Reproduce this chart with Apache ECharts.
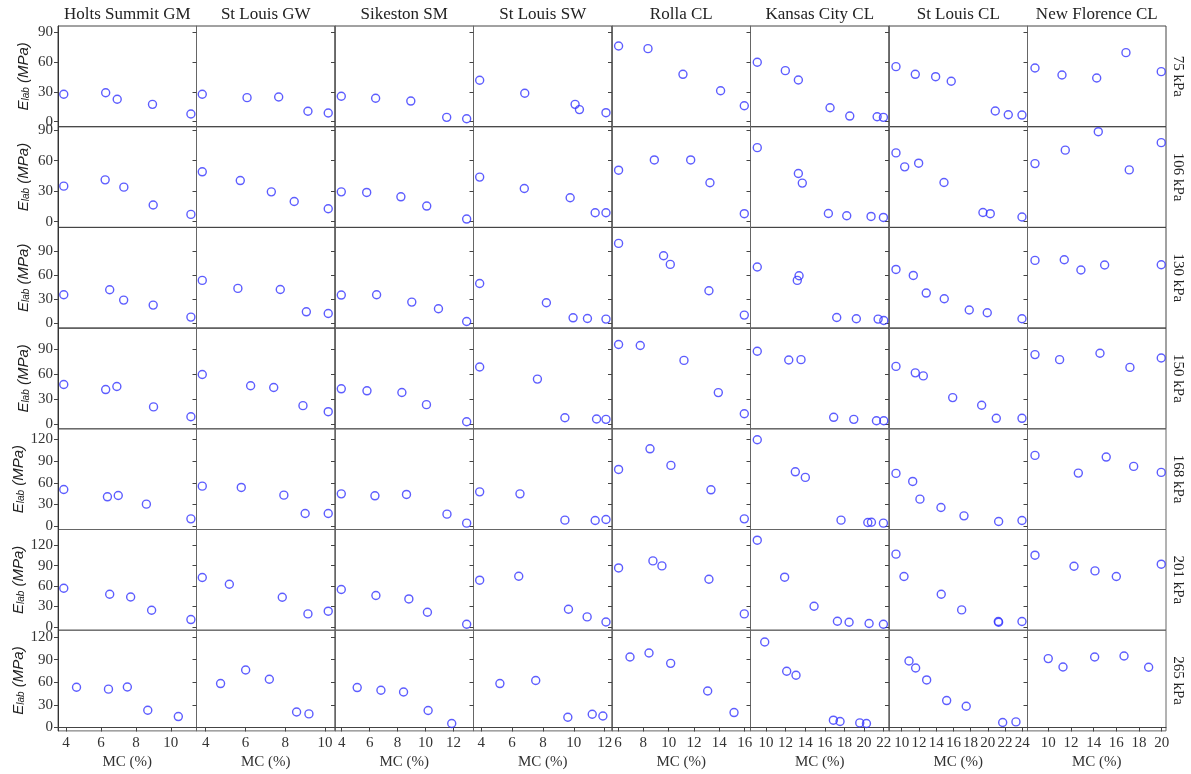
<!DOCTYPE html>
<html><head><meta charset="utf-8">
<script src="https://cdn.jsdelivr.net/npm/echarts@6/dist/echarts.min.js"></script>
<style>html,body{margin:0;padding:0;background:#fff}#c{width:1191px;height:774px}</style>
</head><body><div id="c"></div>
<script>
// ---------- DATA ----------
const sites = ['Holts Summit GM','St Louis GW','Sikeston SM','St Louis SW','Rolla CL','Kansas City CL','St Louis CL','New Florence CL'];
const pressures = ['75 kPa','106 kPa','130 kPa','150 kPa','168 kPa','201 kPa','265 kPa'];

const xTicks = [[4,6,8,10],[4,6,8,10],[4,6,8,10,12],[4,6,8,10,12],[6,8,10,12,14,16],[10,12,14,16,18,20,22],[10,12,14,16,18,20,22,24],[10,12,14,16,18,20]];
const yTicks = [[0,30,60,90],[0,30,60,90],[0,30,60,90],[0,30,60,90],[0,30,60,90,120],[0,30,60,90,120],[0,30,60,90,120]];
const xRanges = [[3.54,11.47],[3.54,10.5],[3.52,13.44],[3.5,12.47],[5.53,16.46],[8.42,22.54],[8.53,24.6],[8.17,20.38]];
const yRanges = [[-5,96.3],[-5.6,93.5],[-5.75,120],[-5.3,114.8],[-4.6,134.7],[-4.8,143],[-4.5,128.9]];

const holtsMC = [[3.87,6.27,6.93,8.95,11.15],[3.87,6.24,7.31,8.99,11.15],[3.87,6.5,7.3,8.99,11.15],[3.87,6.27,6.91,9.01,11.15],[3.87,6.37,6.99,8.6,11.15],[3.87,6.5,7.7,8.9,11.15],[4.6,6.43,7.51,8.68,10.43]];
const holtsE  = [[27.6,29.2,22.6,17.5,7.8],[35,41.2,34,16.4,7.2],[35.9,42.1,29.2,23,8],[47.5,41.5,45.1,20.8,9.1],[50.8,40.6,42.5,30.5,10.1],[56.8,48,44,24.5,10.8],[53.3,50.8,53.7,22.9,14.5]];

const stlGwMC = [[3.83,6.08,7.67,9.14,10.16],[3.83,5.74,7.3,8.45,10.16],[3.83,5.62,7.75,9.06,10.16],[3.83,6.26,7.42,8.89,10.16],[3.83,5.79,7.93,9.0,10.16],[3.83,5.19,7.85,9.14,10.16],[4.75,6.01,7.2,8.57,9.19]];
const stlGwE  = [[27.6,24.2,24.9,10.5,8.8],[49.1,40.5,29.4,19.9,12.8],[53.8,43.8,42.5,14.6,12.5],[59.5,46,44,22.3,15.1],[55.4,53.6,42.9,17.6,17.6],[72.5,62.7,43.6,19.1,23.1],[58.2,76.2,63.9,20.6,18]];

const sikMC = [[3.97,6.43,8.95,11.52,12.95],[3.97,5.79,8.24,10.09,12.95],[3.97,6.5,9.02,10.93,12.95],[3.97,5.81,8.31,10.07,12.95],[3.97,6.38,8.64,11.54,12.95],[3.97,6.45,8.81,10.14,12.95],[5.11,6.81,8.43,10.19,11.88]];
const sikE  = [[25.6,23.6,20.8,4.4,3.0],[29.4,28.8,24.5,15.4,2.6],[35.5,35.9,26.7,18.4,2.5],[42.4,40,38,23.5,3.1],[44.7,42,43.9,16.6,4.2],[54.9,46.1,41.1,21.6,4.0],[52.9,49.3,47.1,22.5,5.3]];

const stlSwMC = [[3.9,6.82,10.08,10.36,12.08],[3.9,6.79,9.76,11.38,12.08],[3.9,8.22,9.95,10.88,12.08],[3.9,7.64,9.42,11.47,12.08],[3.9,6.51,9.42,11.38,12.08],[3.9,6.43,9.65,10.86,12.08],[5.21,7.53,9.61,11.19,11.88]];
const stlSwE  = [[41.7,28.6,17.5,12.2,9.1],[43.9,32.7,23.6,8.8,8.8],[50,25.9,7.1,6.3,5.5],[68.4,54,7.9,6.4,6.0],[47.5,44.7,8.3,7.9,9.3],[68.6,74.4,26,14.7,7.3],[58.2,62.2,13.6,17.6,15.3]];

const rollaMC = [[6.05,8.37,11.13,14.1,15.97],[6.05,8.87,11.74,13.26,15.97],[6.05,9.6,10.13,13.18,15.97],[6.05,7.76,11.21,13.92,15.97],[6.05,8.53,10.18,13.34,15.97],[6.05,8.76,9.47,13.18,15.97],[6.95,8.45,10.16,13.08,15.16]];
const rollaE  = [[76.2,73.5,47.7,31.2,16.1],[50.7,60.8,60.8,38.3,7.9],[100,84.6,73.8,40.9,10.5],[95.2,94,76.3,37.9,12.7],[78.5,107,84.1,50.3,10.1],[86.6,96.9,89.6,70,19.1],[93.4,98.7,85,48.4,19.8]];

const kcMC = [[9.11,11.97,13.3,16.53,18.54,21.33,21.97],[9.11,13.3,13.7,16.36,18.23,20.71,21.97],[9.11,13.19,13.37,17.21,19.21,21.43,22.01],[9.11,12.32,13.57,16.9,18.95,21.26,22.01],[9.11,12.99,14.01,17.65,20.38,20.75,21.97],[9.11,11.9,14.9,17.28,18.47,20.51,21.97],[9.87,12.11,13.06,16.87,17.55,19.56,20.24]];
const kcE  = [[59.8,51.4,42,14.1,5.7,5.0,4.4],[72.9,47.4,38,8.1,5.9,5.2,4.2],[70.5,53.8,59.6,7.5,5.9,5.5,3.8],[87.2,76.8,77.2,8.4,6.0,4.3,4.3],[119.5,75.2,67.5,8.3,5.1,5.5,4.2],[127.3,73,30.4,8.4,6.9,5.0,4.0],[113.2,74.5,69.2,9.7,7.9,6.1,5.3]];

const stlClMC = [[9.34,11.58,13.94,15.75,20.86,22.37,23.96],[9.34,10.35,11.97,14.91,19.43,20.28,23.96],[9.34,11.35,12.85,14.94,17.84,19.93,23.96],[9.34,11.58,12.51,15.92,19.28,20.98,23.96],[9.34,11.28,12.12,14.56,17.23,21.25,23.96],[9.34,10.27,14.59,16.96,21.21,21.25,23.96],[10.85,11.62,12.9,15.22,17.49,21.72,23.26]];
const stlClE  = [[55.4,47.7,45.3,40.7,10.8,7.0,6.7],[67.7,54,57.6,38.6,9.1,7.9,4.6],[67.5,60,38,30.9,16.8,13.4,5.9],[69.1,61.4,57.8,31.9,22.8,7.2,7.2],[73,61.9,37.4,25.9,14.3,6.5,7.9],[106.8,74,48,25,7.9,6.9,7.9],[88.1,78.8,63,35.7,28.2,6.6,7.4]];

const nfMC = [[8.83,11.21,14.27,16.85,19.96],[8.83,11.5,14.41,17.14,19.96],[8.83,11.41,12.88,14.97,19.96],[8.83,11.0,14.56,17.2,19.96],[8.83,12.65,15.11,17.53,19.96],[8.83,12.27,14.12,16.0,19.96],[10,11.3,14.09,16.68,18.85]];
const nfE  = [[54.1,47,44,69.5,50.4],[57.2,70.4,88.6,51,77.8],[78.8,79.6,66.8,73,73.4],[83.2,77.2,84.8,67.9,79.2],[97.9,73.4,95.6,82.7,74.4],[105.3,89.1,82.2,74,92.1],[91.3,80.2,93.4,94.7,79.8]];

const siteMC = [holtsMC, stlGwMC, sikMC, stlSwMC, rollaMC, kcMC, stlClMC, nfMC];
const siteE  = [holtsE, stlGwE, sikE, stlSwE, rollaE, kcE, stlClE, nfE];

// ---------- LAYOUT ----------
const L0 = 58, T0 = 26, CW = 138.5, RH = 100.7;
const NR = pressures.length, NC = sites.length;
const serif = '"Liberation Serif", "DejaVu Serif", serif';
const sans = '"Liberation Sans", Arial, sans-serif';

const grids = [], xAxes = [], yAxes = [], series = [], graphics = [];
for (let r = 0; r < NR; r++) {
  for (let c = 0; c < NC; c++) {
    const idx = grids.length;
    const bottom = r === NR - 1;
    grids.push({left: L0 + c * CW, top: T0 + r * RH, width: CW, height: RH,
      show: true, borderColor: r < 4 ? '#444' : '#666', borderWidth: 1, backgroundColor: 'transparent'});
    xAxes.push({type: 'value', gridIndex: idx, min: xRanges[c][0], max: xRanges[c][1],
      name: bottom ? 'MC (%)' : '', nameLocation: 'middle', nameGap: 24,
      nameTextStyle: {fontFamily: serif, fontSize: 15, color: '#333'},
      axisLine: {show: bottom, lineStyle: {color: '#444', width: 1}},
      axisTick: {show: bottom, length: 4, customValues: xTicks[c], lineStyle: {color: '#444'}},
      axisLabel: {show: bottom, customValues: xTicks[c], fontFamily: serif, fontSize: 15, color: '#333', margin: 5},
      splitLine: {show: false}});
    yAxes.push({type: 'value', gridIndex: idx, min: yRanges[r][0], max: yRanges[r][1],
      name: c === 0 ? '{e|E}{s|lab}{n| (MPa)}' : '', nameLocation: 'middle', nameGap: 27, nameRotate: 90,
      nameTextStyle: {color: '#222', rich: {
        e: {fontFamily: sans, fontStyle: 'italic', fontSize: 15, color: '#222', verticalAlign: 'bottom', lineHeight: 18},
        s: {fontFamily: sans, fontStyle: 'italic', fontSize: 10, color: '#222', verticalAlign: 'bottom', lineHeight: 13},
        n: {fontFamily: sans, fontStyle: 'italic', fontSize: 15, color: '#222', verticalAlign: 'bottom', lineHeight: 18}}},
      axisLine: {show: true, lineStyle: {color: c === 0 ? '#333' : '#666', width: 1}},
      axisTick: {show: true, length: 4, customValues: yTicks[r], lineStyle: {color: '#444'}},
      axisLabel: {show: c === 0, customValues: yTicks[r], fontFamily: serif, fontSize: 15, color: '#333', margin: 5},
      splitLine: {show: false}});
    const mc = siteMC[c][r], ev = siteE[c][r];
    series.push({type: 'scatter', xAxisIndex: idx, yAxisIndex: idx,
      data: mc.map((m, i) => [m, ev[i]]),
      symbol: 'circle', symbolSize: 8, silent: true,
      itemStyle: {color: 'rgba(0,0,0,0)', borderColor: '#3535ff', borderWidth: 1.4}});
  }
}
for (let c = 0; c < NC; c++) {
  graphics.push({type: 'text', x: L0 + (c + 0.5) * CW, y: 15,
    style: {text: sites[c], font: '17px ' + serif, fill: '#222', align: 'center', verticalAlign: 'middle'}});
}
for (let r = 0; r < NR; r++) {
  graphics.push({type: 'text', x: L0 + NC * CW + 12, y: T0 + (r + 0.5) * RH, rotation: -Math.PI / 2,
    style: {text: pressures[r], font: '15px ' + serif, fill: '#222', align: 'center', verticalAlign: 'middle'}});
}

const chart = echarts.init(document.getElementById('c'), null, {renderer: 'canvas'});
chart.setOption({animation: false, backgroundColor: '#fff',
  grid: grids, xAxis: xAxes, yAxis: yAxes, series: series, graphic: graphics});
</script></body></html>
